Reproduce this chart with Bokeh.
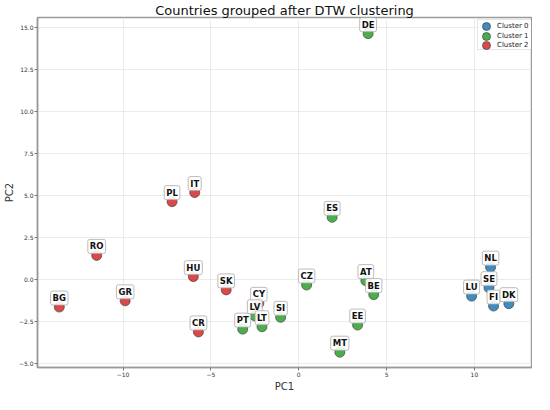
from bokeh.plotting import figure
from bokeh.models import (ColumnDataSource, FixedTicker, CustomJSTickFormatter, Range1d,
                          Legend, LegendItem)
from bokeh.core.properties import value
from bokeh.embed import file_html
from bokeh.resources import INLINE

countries = ["BG", "RO", "GR", "PL", "IT", "HU", "SK", "CR", "CY",
             "PT", "LV", "LT", "SI", "CZ", "ES", "AT", "BE", "EE", "MT", "DE",
             "LU", "NL", "SE", "FI", "DK"]
pc1 = [-13.63, -11.50, -9.88, -7.21, -5.92, -6.00, -4.13, -5.71, -2.27,
       -3.19, -2.50, -2.09, -1.03, 0.45, 1.90, 3.82, 4.27, 3.35, 2.34, 3.95,
       9.84, 10.92, 10.83, 11.09, 11.96]
pc2 = [-1.63, 1.44, -1.26, 4.63, 5.17, 0.18, -0.61, -3.11, -1.41,
       -2.94, -2.15, -2.80, -2.24, -0.32, 3.70, -0.06, -0.89, -2.70, -4.31, 14.61,
       -0.98, 0.74, -0.48, -1.57, -1.43]
cluster = [2, 2, 2, 2, 2, 2, 2, 2, 2,
           1, 1, 1, 1, 1, 1, 1, 1, 1, 1, 1,
           0, 0, 0, 0, 0]

cluster_names = ["Cluster 0", "Cluster 1", "Cluster 2"]
cluster_colors = ["#1f77b4", "#2ca02c", "#d62728"]

x_ticks = [-10, -5, 0, 5, 10]
y_ticks = [-5.0, -2.5, 0.0, 2.5, 5.0, 7.5, 10.0, 12.5, 15.0]

FW, FH = 494, 350

p = figure(frame_width=FW, frame_height=FH, output_backend="svg", toolbar_location=None,
           x_range=Range1d(-14.87, 13.25), y_range=Range1d(-5.22, 15.57),
           title="Countries grouped after DTW clustering",
           min_border_left=0, min_border_right=1, min_border_top=0, min_border_bottom=0)

p.title.align = "center"
p.title.text_font = "DejaVu Sans"
p.title.text_font_size = "13px"
p.title.text_font_style = "normal"
p.title.text_color = "#111111"
p.title.standoff = 0
p.title.offset = 0

p.outline_line_color = "#9a9a9a"
p.outline_line_width = 1.5
p.background_fill_color = "white"

for ax in (p.xaxis[0], p.yaxis[0]):
    ax.axis_line_color = "#9a9a9a"
    ax.axis_line_width = 1.5
    ax.major_tick_line_color = "#777777"
    ax.major_tick_out = 3
    ax.major_tick_in = 0
    ax.minor_tick_line_color = None
    ax.major_label_text_font = "DejaVu Sans"
    ax.major_label_text_font_size = "6px"
    ax.major_label_text_color = "#333333"
    ax.axis_label_text_font = "DejaVu Sans"
    ax.axis_label_text_font_size = "10px"
    ax.axis_label_text_font_style = "normal"
    ax.axis_label_text_color = "#333333"
    ax.axis_label_standoff = 1
    ax.major_label_standoff = 1

p.xaxis.axis_label = "PC1"
p.yaxis.axis_label = "PC2"
p.xaxis.ticker = FixedTicker(ticks=x_ticks)
p.yaxis.ticker = FixedTicker(ticks=y_ticks)
p.xaxis.formatter = CustomJSTickFormatter(code="return tick.toFixed(0).replace('-', '\u2212');")
p.yaxis.formatter = CustomJSTickFormatter(code="return tick.toFixed(1).replace('-', '\u2212');")

p.xgrid.ticker = FixedTicker(ticks=x_ticks)
p.ygrid.ticker = FixedTicker(ticks=y_ticks)
p.grid.grid_line_color = "#e6e6e6"
p.grid.grid_line_width = 0.8

renderers = []
sources = []
for c in range(3):
    idx = [i for i, k in enumerate(cluster) if k == c]
    src = ColumnDataSource(dict(x=[pc1[i] for i in idx], y=[pc2[i] for i in idx]))
    r = p.scatter("x", "y", source=src, size=10, fill_color=cluster_colors[c], fill_alpha=0.85,
                  line_color="#444444", line_width=0.7)
    renderers.append(r)
    sources.append(src)

lab_src = ColumnDataSource(dict(x=pc1, y=pc2, t=countries))
p.text("x", "y", text="t", source=lab_src, y_offset=-9,
       text_font=value("DejaVu Sans"), text_font_style="bold", text_font_size="8.5px",
       text_align="center", text_baseline="middle", text_color="#111111",
       background_fill_color="white", background_fill_alpha=0.9,
       border_line_color="#aaaaaa", border_line_width=0.8, padding=2, border_radius=2)

# compact legend: a bordered frame legend (invisible glyph), one single-item legend per cluster on top
box_w, box_h = 52, 29
box_left, box_top = FW - box_w - 2, FH - 4
dummy = p.scatter("x", "y", source=sources[2], size=1, fill_alpha=0, line_alpha=0)
frame_leg = Legend(items=[LegendItem(label="\u2009", renderers=[dummy])],
                   location=(float(box_left), float(box_top - box_h)),
                   glyph_width=box_w, glyph_height=box_h, label_width=0, label_height=9,
                   label_standoff=0, padding=0, margin=0, spacing=0,
                   border_line_color="#cccccc", border_line_width=1,
                   background_fill_color="white", background_fill_alpha=0.85,
                   label_text_font_size="6px")
p.add_layout(frame_leg)
for c in range(3):
    center_y = box_top - 5 - 9.5 * c
    leg = Legend(items=[LegendItem(label=cluster_names[c], renderers=[renderers[c]])],
                 location=(float(box_left - 1), float(center_y - 10)),
                 glyph_height=20, glyph_width=20, label_height=9, label_standoff=1,
                 padding=0, margin=0, spacing=0,
                 border_line_color=None, background_fill_alpha=0,
                 label_text_font="DejaVu Sans", label_text_font_size="7px",
                 label_text_color="#222222", label_text_baseline="middle")
    p.add_layout(leg)

open("out.html", "w").write(file_html(p, INLINE))
